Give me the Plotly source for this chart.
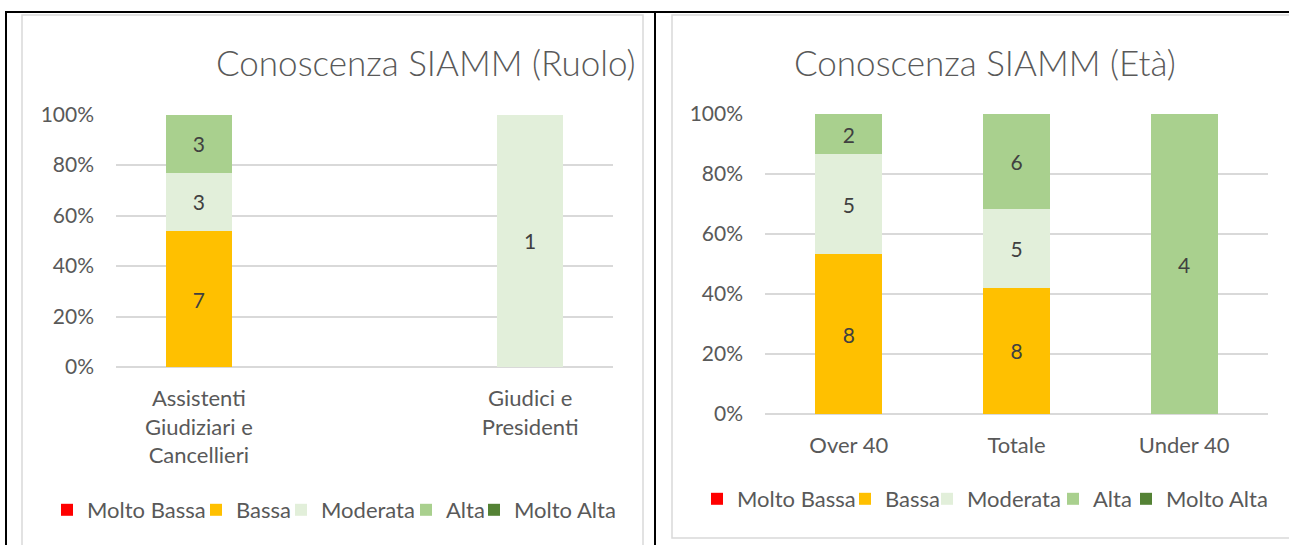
import plotly.graph_objects as go

# ---------------- data ----------------
series_names = ["Molto Bassa", "Bassa", "Moderata", "Alta", "Molto Alta"]
series_colors = ["#FF0000", "#FFC000", "#E2EFDA", "#A9D08E", "#548235"]

# Chart 1: Ruolo (the middle category is empty in the original sheet)
ruolo_categories = ["Assistenti<br>Giudiziari e<br>Cancellieri", " ", "Giudici e<br>Presidenti"]
ruolo_molto_bassa = [0, None, 0]
ruolo_bassa = [7, None, 0]
ruolo_moderata = [3, None, 1]
ruolo_alta = [3, None, 0]
ruolo_molto_alta = [0, None, 0]

# Chart 2: Età
eta_categories = ["Over 40", "Totale", "Under 40"]
eta_molto_bassa = [0, 0, 0]
eta_bassa = [8, 8, 0]
eta_moderata = [5, 5, 0]
eta_alta = [2, 6, 4]
eta_molto_alta = [0, 0, 0]

y_tickvals = [0, 20, 40, 60, 80, 100]
y_ticktext = ["0%", "20%", "40%", "60%", "80%", "100%"]

title_ruolo = "Conoscenza SIAMM (Ruolo)"
title_eta = "Conoscenza SIAMM (Età)"

# ---------------- styling ----------------
FONT = "Lato"
W, H = 1289, 545
GRID = "#D9D9D9"
TXT = "#595959"
LBL = "#404040"

# left edge (px) of each legend entry's text, per chart
legend_text_x_ruolo = [87, 236, 321, 446, 514]
legend_text_x_eta = [737, 885, 967, 1093, 1166]
legend_y_ruolo = 510
legend_y_eta = 499


def px_x(x):
    return x / W


def px_y(y):
    return 1 - y / H


fig = go.Figure()

ruolo_series = [ruolo_molto_bassa, ruolo_bassa, ruolo_moderata, ruolo_alta, ruolo_molto_alta]
eta_series = [eta_molto_bassa, eta_bassa, eta_moderata, eta_alta, eta_molto_alta]


def labels(vals):
    return [str(v) if v else "" for v in vals]


legend_layouts = {}
leg_idx = 0
for chart, (cats, series_list, xa, ya, text_xs, ly) in enumerate([
    (ruolo_categories, ruolo_series, "x", "y", legend_text_x_ruolo, legend_y_ruolo),
    (eta_categories, eta_series, "x2", "y2", legend_text_x_eta, legend_y_eta),
]):
    for name, color, vals, tx in zip(series_names, series_colors, series_list, text_xs):
        leg_idx += 1
        lname = "legend" if leg_idx == 1 else f"legend{leg_idx}"
        fig.add_trace(go.Bar(
            name=name, x=cats, y=vals, marker_color=color,
            marker_line_width=0,
            text=labels(vals), textposition="inside", insidetextanchor="middle",
            textangle=0, textfont=dict(family=FONT, size=21, color=LBL),
            xaxis=xa, yaxis=ya, legend=lname, hoverinfo="skip",
        ))
        legend_layouts[lname] = dict(
            orientation="h", x=px_x(tx - 40), xanchor="left",
            y=px_y(ly), yanchor="middle",
            font=dict(family=FONT, size=22, color=TXT),
            bgcolor="rgba(0,0,0,0)", borderwidth=0,
            itemclick=False, itemdoubleclick=False,
        )

xaxis_common = dict(
    type="category", showgrid=False, showline=False, ticks="",
    tickfont=dict(family=FONT, size=22, color=TXT), fixedrange=True,
    ticklabelstandoff=16, range=[-0.5, 2.5], categoryorder="array",
)
yaxis_common = dict(
    range=[0, 100], tickvals=y_tickvals, ticktext=y_ticktext,
    showgrid=True, gridcolor=GRID, gridwidth=1.5,
    zeroline=True, zerolinecolor=GRID, zerolinewidth=1.5,
    showline=False, ticks="", ticklabelstandoff=21,
    tickfont=dict(family=FONT, size=21, color=TXT), fixedrange=True,
)

fig.update_layout(
    width=W, height=H,
    margin=dict(l=0, r=0, t=0, b=0, autoexpand=False),
    paper_bgcolor="white", plot_bgcolor="white",
    barmode="stack", barnorm="percent", bargap=0.6,
    font=dict(family=FONT, color=TXT),
    xaxis=dict(domain=[px_x(116), px_x(613)], anchor="y",
               categoryarray=ruolo_categories, **xaxis_common),
    yaxis=dict(domain=[px_y(367), px_y(114.5)], anchor="x", **yaxis_common),
    xaxis2=dict(domain=[px_x(765), px_x(1268)], anchor="y2",
                categoryarray=eta_categories, **xaxis_common),
    yaxis2=dict(domain=[px_y(414), px_y(114)], anchor="x2", **yaxis_common),
    showlegend=True,
    annotations=[
        dict(text=title_ruolo, x=px_x(426), y=px_y(62), xref="paper", yref="paper",
             xanchor="center", yanchor="middle", showarrow=False,
             font=dict(family=FONT, size=35, color=TXT, weight=300)),
        dict(text=title_eta, x=px_x(985), y=px_y(62), xref="paper", yref="paper",
             xanchor="center", yanchor="middle", showarrow=False,
             font=dict(family=FONT, size=35, color=TXT, weight=300)),
    ],
    shapes=[
        # light chart frames
        dict(type="rect", xref="paper", yref="paper", x0=px_x(22), x1=px_x(643),
             y0=px_y(560), y1=px_y(15), line=dict(color=GRID, width=1.5), layer="below"),
        dict(type="rect", xref="paper", yref="paper", x0=px_x(672), x1=px_x(1300),
             y0=px_y(538), y1=px_y(15), line=dict(color=GRID, width=1.5), layer="below"),
        # black table borders
        dict(type="line", xref="paper", yref="paper", x0=px_x(5), x1=px_x(1300),
             y0=px_y(12), y1=px_y(12), line=dict(color="black", width=2)),
        dict(type="line", xref="paper", yref="paper", x0=px_x(6), x1=px_x(6),
             y0=px_y(11), y1=px_y(560), line=dict(color="black", width=2)),
        dict(type="line", xref="paper", yref="paper", x0=px_x(655), x1=px_x(655),
             y0=px_y(11), y1=px_y(560), line=dict(color="black", width=2)),
    ],
    **legend_layouts,
)

fig.write_html("out.html", config={"displayModeBar": False},
               post_script="document.body.style.margin='0';")
